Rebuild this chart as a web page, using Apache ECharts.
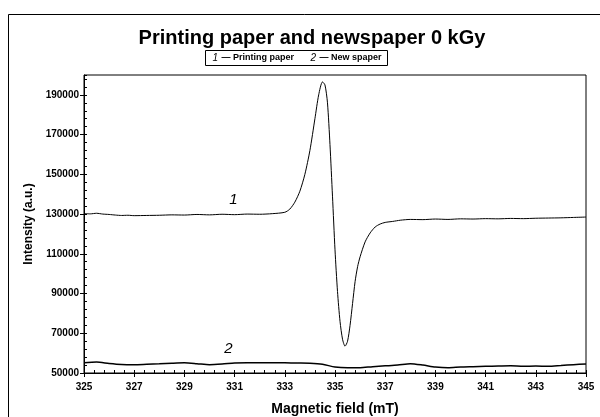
<!DOCTYPE html>
<html><head><meta charset="utf-8">
<script src="https://cdn.jsdelivr.net/npm/echarts@6/dist/echarts.min.js"></script>
<style>html,body{margin:0;padding:0;background:#fff}#c{width:600px;height:417px}</style>
</head><body><div id="c"></div>
<script>
var titleText = 'Printing paper and newspaper 0 kGy';
var xTitle = 'Magnetic field (mT)';
var yTitle = 'Intensity (a.u.)';
var seriesNames = ['Printing paper', 'New spaper'];

var field1 = [325.0,325.25,325.5,325.75,326.0,326.25,326.5,326.75,327.0,327.5,328.0,328.5,329.0,329.5,330.0,330.5,331.0,331.5,332.0,332.5,333.0,333.2,333.4,333.6,333.8,334.0,334.2,334.35,334.5,334.6,334.7,334.8,334.9,335.0,335.1,335.2,335.3,335.4,335.5,335.6,335.7,335.8,335.9,336.0,336.2,336.4,336.6,336.8,337.0,337.3,337.6,338.0,338.5,339.0,339.5,340.0,340.5,341.0,341.5,342.0,342.5,343.0,343.5,344.0,344.5,345.0];
var printing = [130300,130100,130400,130000,129800,129500,129300,129400,129200,129300,129400,129600,129500,129800,129600,129900,129700,130000,129900,130200,130900,132500,136000,141500,150000,162000,178000,190000,196500,195000,186000,165000,139000,112000,91000,76000,67000,63500,66000,74000,85000,96000,103500,108500,116000,120500,123500,125000,125800,126300,126900,127300,127200,127500,127300,127600,127500,127700,127600,127800,127700,127900,128000,128100,128300,128500];

var field2 = [325.0,325.5,326.0,326.5,327.0,327.5,328.0,328.5,329.0,329.5,330.0,330.5,331.0,331.5,332.0,332.5,333.0,333.5,334.0,334.5,335.0,335.5,336.0,336.5,337.0,337.5,338.0,338.5,339.0,339.5,340.0,340.5,341.0,341.5,342.0,342.5,343.0,343.5,344.0,344.5,345.0];
var newspaper = [55200,55500,54800,54300,54200,54400,54600,54900,55100,54700,54200,54500,55000,55200,55200,55200,55100,55000,54900,54400,53000,52600,52700,53200,53600,54000,54700,54000,53000,52600,53000,53200,53400,53500,53600,53400,53500,53400,53800,54200,54500];

var xTicks = [325,327,329,331,333,335,337,339,341,343,345];
var yTicks = [50000,70000,90000,110000,130000,150000,170000,190000];
var curveLabels = [{text:'1', x:330.95, y:137000}, {text:'2', x:330.75, y:62000}];

function pairs(xs, ys){ return xs.map(function(x,i){return [x, ys[i]];}); }

var chart = echarts.init(document.getElementById('c'));
var FONT = '"Liberation Sans", Arial, sans-serif';
function mark(l){
  return {symbol: 'circle', symbolSize: 1, itemStyle: {color: 'rgba(0,0,0,0)'},
    data: [{coord: [l.x, l.y], label: {show: true, position: 'inside', formatter: l.text, fontStyle: 'italic', fontSize: 15, color: '#000', fontFamily: FONT}}]};
}
chart.setOption({
  backgroundColor: '#fff',
  animation: false,
  textStyle: {fontFamily: FONT},
  title: {text: titleText, left: 307, top: 23, textAlign: 'center',
    textStyle: {fontFamily: FONT, fontWeight: 'bold', fontSize: 20, color: '#000'}},
  grid: {left: 84, right: 14, top: 75, bottom: 44, show: true, borderColor: '#000', borderWidth: 1,
    containLabel: false, outerBoundsMode: 'none'},
  xAxis: [{
    type: 'value', min: xTicks[0], max: xTicks[xTicks.length-1], interval: 2,
    name: xTitle, nameLocation: 'middle', nameGap: 29,
    nameTextStyle: {fontFamily: FONT, fontWeight: 'bold', fontSize: 14, color: '#000'},
    axisLine: {lineStyle: {color: '#000', width: 1}},
    axisTick: {show: true, inside: false, length: 4, lineStyle: {color: '#000'}},
    minorTick: {show: false},
    axisLabel: {fontFamily: FONT, fontWeight: 'bold', fontSize: 10, color: '#000', margin: 9},
    splitLine: {show: false}
  }, {
    type: 'value', position: 'bottom', min: xTicks[0], max: xTicks[xTicks.length-1], interval: 2,
    axisLine: {show: false},
    axisTick: {show: true, inside: true, length: 3, lineStyle: {color: '#000'}},
    minorTick: {show: true, splitNumber: 5, length: 3, lineStyle: {color: '#000'}},
    axisLabel: {show: false}, splitLine: {show: false}
  }],
  yAxis: [{
    type: 'value', min: 50000, max: 200000, interval: 20000,
    name: yTitle, nameLocation: 'middle', nameGap: 43, nameRotate: 90,
    nameTextStyle: {fontFamily: FONT, fontWeight: 'bold', fontSize: 12, color: '#000'},
    axisLine: {show: true, lineStyle: {color: '#000', width: 1}},
    axisTick: {show: true, inside: false, length: 4, lineStyle: {color: '#000'}},
    axisLabel: {fontFamily: FONT, fontWeight: 'bold', fontSize: 10, color: '#000', margin: 5, showMaxLabel: false,
      formatter: function(v){ return String(v); }},
    splitLine: {show: false}
  }, {
    type: 'value', position: 'left', min: 50000, max: 200000, interval: 20000,
    axisLine: {show: false},
    axisTick: {show: true, inside: true, length: 3, lineStyle: {color: '#000'}},
    minorTick: {show: true, splitNumber: 5, length: 3, lineStyle: {color: '#000'}},
    axisLabel: {show: false}, splitLine: {show: false}
  }],
  series: [{
    name: seriesNames[0], type: 'line', showSymbol: false, smooth: 0.25,
    data: pairs(field1, printing), lineStyle: {color: '#000', width: 1},
    markPoint: mark(curveLabels[0])
  }, {
    name: seriesNames[1], type: 'line', showSymbol: false, smooth: 0.25,
    data: pairs(field2, newspaper), lineStyle: {color: '#000', width: 1.5},
    markPoint: mark(curveLabels[1])
  }],
  graphic: [
    {type: 'rect', shape: {x: 8.5, y: 14.5, width: 700, height: 500}, style: {fill: 'none', stroke: '#000', lineWidth: 1}, silent: true, z: 0},
    {type: 'rect', shape: {x: 205.5, y: 50.5, width: 182, height: 15}, style: {fill: '#fff', stroke: '#000', lineWidth: 1}, z: 10},
    {type: 'text', x: 297, y: 58, z: 11, style: {
      text: '{n|1} {b|— ' + seriesNames[0] + '}     {n|2} {b|— ' + seriesNames[1] + '}',
      align: 'center', verticalAlign: 'middle',
      rich: {
        n: {fontStyle: 'italic', fontSize: 10, fontFamily: FONT, fill: '#000'},
        b: {fontWeight: 'bold', fontSize: 9, fontFamily: FONT, fill: '#000'}
      }
    }}
  ]
});
</script></body></html>
